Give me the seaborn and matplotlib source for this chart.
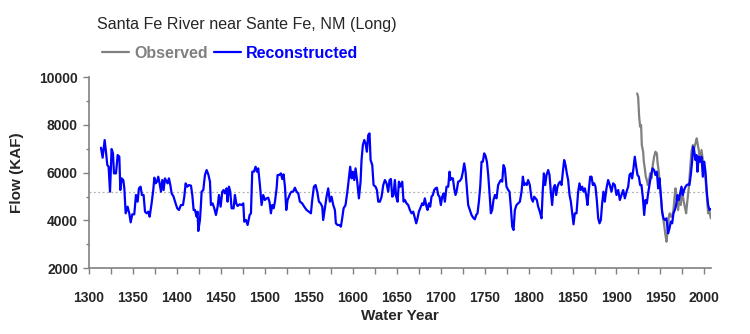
import matplotlib
matplotlib.use("Agg")
import matplotlib.pyplot as plt
import seaborn as sns
import pandas as pd
from matplotlib.ticker import MultipleLocator

title = "Santa Fe River near Sante Fe, NM (Long)"
x_label = "Water Year"
y_label = "Flow (KAF)"
mean_flow = 5180

rec_years = [1313.6, 1315.5, 1317.8, 1319.3, 1320.8, 1322.3, 1323.9, 1325.7, 1327.3, 1328.4,
             1330.7, 1332.6, 1334.5, 1335.6, 1337.1, 1339.0, 1340.2, 1341.7, 1343.9, 1345.8,
             1347.4, 1349.2, 1351.5, 1353.4, 1355.3, 1356.8, 1358.7, 1360.2, 1362.1, 1363.7,
             1365.5, 1367.4, 1369.0, 1371.2, 1373.1, 1374.3, 1375.8, 1377.3, 1378.8, 1380.3,
             1381.9, 1383.4, 1384.9, 1386.4, 1387.9, 1389.4, 1390.9, 1392.5, 1394.0, 1396.2,
             1398.5, 1400.4, 1402.3, 1404.6, 1406.9, 1408.4, 1409.9, 1411.8, 1413.7, 1416.0,
             1417.5, 1419.0, 1420.5, 1422.4, 1423.5, 1424.3,
             1426.2, 1427.3, 1428.1, 1430.0, 1431.9, 1433.8, 1435.7, 1437.6, 1438.7, 1440.6,
             1442.5, 1444.4, 1446.3, 1447.8, 1449.7, 1451.6, 1453.1, 1454.6, 1456.5, 1457.6,
             1459.2, 1460.7, 1462.2, 1464.5, 1466.0, 1467.5, 1469.0, 1471.3, 1473.6, 1475.5,
             1476.6, 1478.5, 1480.4, 1482.7, 1484.2, 1485.7, 1487.6, 1489.5, 1491.0, 1492.5,
             1494.4, 1496.3, 1498.2, 1500.1, 1502.0, 1503.9, 1505.4, 1506.9, 1508.4, 1510.0,
             1511.5, 1513.4, 1514.5, 1516.4, 1518.3, 1519.8, 1521.3, 1522.9, 1524.4, 1525.9,
             1527.4, 1528.9, 1530.4, 1532.3, 1534.2, 1536.1, 1538.0,
             1539.9, 1542.5, 1544.8, 1547.5, 1550.1, 1552.4, 1553.9, 1555.8, 1557.7, 1559.6,
             1561.5, 1563.4, 1565.3, 1566.4, 1568.3, 1570.2, 1572.1, 1574.0, 1575.9, 1577.8,
             1579.7, 1580.8, 1582.7, 1585.0, 1586.5, 1588.0, 1589.6, 1591.8, 1594.1, 1595.6,
             1597.1, 1598.7, 1600.2, 1601.7, 1603.2, 1605.1, 1607.0, 1608.9, 1610.0, 1611.5,
             1613.1, 1614.6, 1616.1, 1617.6, 1619.1, 1620.3, 1622.2, 1623.7, 1625.9, 1627.5,
             1629.0, 1630.9, 1632.8, 1634.7, 1636.6, 1638.5, 1640.3, 1641.9, 1643.4, 1644.9,
             1646.4, 1647.9, 1649.4, 1651.0, 1652.5, 1654.0,
             1656.3, 1657.8, 1659.3, 1661.2, 1663.1, 1665.0, 1666.9, 1668.8, 1670.7, 1672.2,
             1673.7, 1675.2, 1677.5, 1679.0, 1680.5, 1682.0, 1683.9, 1685.1, 1686.6, 1688.1,
             1689.6, 1691.1, 1692.7, 1694.2, 1695.7, 1697.2, 1698.7, 1700.2, 1701.8, 1703.3,
             1704.8, 1706.7, 1708.6, 1710.1, 1711.2, 1712.4, 1713.9, 1715.4, 1716.9, 1718.4,
             1719.9, 1721.8, 1723.7, 1725.3, 1726.8, 1728.3, 1729.8, 1731.3, 1733.2, 1735.1,
             1737.0, 1738.9, 1740.4, 1741.9, 1743.5, 1745.0, 1746.5, 1748.0, 1749.5, 1751.0,
             1752.6, 1754.1, 1755.6, 1757.1, 1758.6, 1760.1, 1761.7, 1763.5, 1765.4, 1767.3,
             1768.5, 1770.0, 1771.5, 1773.0, 1774.9, 1776.8, 1778.3, 1779.8, 1781.4, 1782.9,
             1784.4, 1786.3, 1788.2, 1790.1, 1792.0, 1793.5, 1795.0, 1796.5, 1798.0, 1799.5,
             1801.4, 1803.3, 1804.9, 1806.4, 1807.9, 1809.4, 1810.9, 1812.8, 1814.7, 1816.2,
             1817.4, 1818.9, 1820.4, 1822.3, 1823.8, 1825.3, 1826.8, 1828.4, 1829.9, 1831.4,
             1832.9, 1834.4, 1835.9, 1837.5, 1839.0, 1840.5, 1842.0, 1843.5, 1845.0, 1846.6,
             1848.1, 1849.6, 1851.1, 1852.6, 1854.5, 1856.4, 1857.9, 1859.4, 1861.0, 1862.5,
             1864.0, 1865.5, 1867.0, 1868.5, 1870.1, 1871.6, 1873.1, 1874.6, 1876.1, 1877.6,
             1879.2, 1880.7, 1882.2,
             1883.7, 1885.2, 1886.7, 1888.6, 1890.5, 1892.4, 1894.3, 1896.2, 1898.1, 1900.0,
             1901.9, 1903.8, 1905.7, 1907.6, 1909.5, 1911.4, 1913.3, 1914.8, 1916.3, 1917.8,
             1919.3, 1920.8, 1922.4, 1923.9, 1925.4, 1926.9, 1928.4, 1929.9, 1931.5, 1933.0,
             1934.5, 1936.0, 1937.5, 1939.0, 1940.9, 1942.8, 1944.3, 1945.9, 1947.4, 1948.9,
             1950.4, 1951.9, 1953.4, 1954.9, 1956.8, 1958.7, 1960.3, 1961.8, 1963.3, 1964.8,
             1966.3, 1967.8, 1969.4, 1970.9, 1972.4, 1973.9, 1975.4, 1976.9, 1978.5, 1980.0,
             1981.5, 1983.0, 1984.5, 1986.0, 1987.2, 1988.3, 1989.8, 1991.0, 1992.1, 1993.6,
             1995.1, 1996.7, 1998.2, 1999.7, 2001.2, 2002.7, 2004.2, 2005.8, 2007.3]

rec_flow = [7043, 6625, 7363, 6876, 6318, 6250, 5204, 6987, 6806, 5970,
            5970, 6736, 6667, 5274, 5761, 5692, 5343, 4299, 4577, 4299,
            3922, 4257, 4257, 5065, 4786, 5343, 5413, 5065, 5065, 4368,
            4299, 4368, 4159, 4716, 5274, 5789, 5552, 5622, 5831, 5552,
            5204, 5692, 5274, 5761, 5650, 5552, 5761, 5483, 5134, 4995,
            4716, 4508, 4438, 4647, 4647, 4995, 5552, 5413, 5483, 5455,
            5065, 4438, 4438, 4159, 4368, 3560,
            4020, 4647, 5204, 5274, 5901, 6110, 5928, 5622, 4647, 4716,
            4508, 4229, 4577, 5065, 4577, 5204, 5274, 5134, 5343, 4786,
            5413, 5204, 4508, 4508, 5065, 4716, 4605, 4675, 4647, 4716,
            3950, 4020, 3811, 4229, 4299, 6040, 6040, 6249, 6040, 6179,
            5483, 4647, 5065, 4856, 4925, 4953, 4758, 4299, 4647, 4508,
            4786, 5343, 5901, 5901, 5970, 5733, 5928, 5413, 4438, 4856,
            4995, 5134, 5204, 5204, 5371, 5204, 5134,
            4786, 4716, 4577, 4438, 4368, 4299, 4856, 5413, 5483, 5204,
            4786, 4716, 4577, 4020, 4508, 4995, 5343, 4786, 4995, 4647,
            4438, 3881, 3811, 3811, 3741, 4090, 4508, 4647, 5274, 5761,
            6249, 5761, 6040, 5692, 6179, 5622, 4925, 5622, 6527, 7154,
            7363, 7224, 6876, 7572, 7642, 6527, 6318, 5483, 5413, 5274,
            4786, 4786, 4995, 5483, 5692, 5552, 5204, 5692, 5733, 4995,
            5065, 5692, 4995, 4786, 5622, 5413,
            5622, 4786, 4856, 4716, 4647, 4438, 4299, 4368, 4090, 3881,
            4090, 4368, 4577, 4716, 4647, 4925, 4577, 4438, 4716, 4577,
            4995, 5065, 5274, 5343, 5371, 5065, 4995, 4647, 4995, 5134,
            4786, 5413, 5413, 6040, 5692, 5761, 5761, 5343, 5065, 5274,
            5622, 5650, 5761, 6040, 6388, 6040, 5343, 4647, 4438, 4229,
            4117, 4048, 4229, 4299, 4786, 5413, 6458, 6458, 6806, 6708,
            6458, 5901, 5134, 4299, 4438, 4856, 5065, 4925, 5483, 5622,
            5692, 5622, 6318, 6179, 5413, 5274, 5204, 4577, 3741, 3602,
            4438, 4647, 4716, 4786, 5204, 5831, 5483, 5552, 5483, 5692,
            5483, 4925, 4786, 4995, 4925, 4856, 4577, 4368, 4090, 5274,
            5970, 5483, 5901, 6110, 5901, 5204, 4647, 5343, 5483, 5065,
            5413, 5552, 5622, 5483, 6040, 6527, 6318, 5970, 5692, 5065,
            4786, 4299, 3839, 4299, 4299, 5204, 5552, 5274, 5413, 5204,
            5343, 5065, 4647, 5274, 5831, 5831, 5483, 5552, 5413, 4856,
            4090, 3881, 4020,
            4717, 5204, 4787, 5344, 5692, 5483, 5204, 5553, 5483, 5065,
            5274, 4856, 5065, 5274, 4926, 5204, 5413, 5901, 5971, 5762,
            6180, 6667, 6249, 5901, 5831, 5483, 5483, 4995, 4229, 4856,
            4717, 5135, 5483, 5831, 6180, 6110, 5901, 6040, 5344, 5762,
            5065, 4368, 4090, 4020, 4090, 3463, 3672, 3951, 3881, 4299,
            4438, 4647, 5065, 4856, 5135, 5413, 5065, 5274, 5413, 5483,
            5511, 5483, 5901, 6458, 7085, 6946, 6528, 6737, 6040, 6667,
            6458, 6667, 5831, 6458, 6040, 5204, 4647, 4438, 4480]

obs_years = [1923.5, 1924.6, 1925.8, 1926.9, 1928.0, 1928.8, 1930.3, 1931.1, 1932.2, 1933.3,
             1934.5, 1935.6, 1936.8, 1938.3, 1939.8, 1941.3, 1942.8, 1944.3, 1945.9, 1946.6,
             1948.1, 1949.3, 1950.4, 1951.9, 1953.1, 1954.2, 1955.7, 1956.9, 1958.0, 1959.5,
             1960.6, 1961.8, 1963.3, 1964.8, 1965.9, 1967.1, 1968.6, 1970.1, 1971.6, 1973.2,
             1974.7, 1976.2, 1977.7, 1979.2, 1980.7, 1982.2, 1983.8, 1985.3, 1986.8, 1988.3,
             1989.8, 1991.3, 1992.5, 1993.6, 1995.1, 1996.7, 1998.2, 1999.7, 2001.2, 2002.7,
             2004.2, 2005.8, 2007.3]
obs_flow = [9314, 9174, 8339, 7921, 7990, 7155, 6876, 6458, 6180, 5831,
            5692, 5483, 5622, 5971, 5762, 6319, 6667, 6876, 6806, 6458,
            6040, 5483, 5065, 4368, 4090, 3811, 3393, 3115, 3533, 4160,
            4299, 4160, 4160, 4438, 4926, 5344, 4856, 4438, 4995, 4647,
            5344, 4856, 4577, 4299, 4856, 5344, 6180, 6876, 7155, 7015,
            7224, 7433, 7155, 6946, 6458, 6946, 6528, 6319, 5762, 5065,
            4299, 4368, 4090]

sns.set_style("white")
plt.rcParams["font.family"] = ["Liberation Sans", "DejaVu Sans"]

fig = plt.figure(figsize=(7.5, 3.34), dpi=100)
ax = fig.add_axes([89 / 750, 1 - 268.3 / 334, (711 - 89) / 750, (268.3 - 77) / 334])

obs_df = pd.DataFrame({"Year": obs_years, "Flow": obs_flow})
rec_df = pd.DataFrame({"Year": rec_years, "Flow": rec_flow})

ax.axhline(mean_flow, color="#b0b0b0", lw=0.9, ls=(0, (1.5, 2)), zorder=1)
sns.lineplot(data=obs_df, x="Year", y="Flow", ax=ax, color="#808080", lw=1.6,
             sort=False, estimator=None, label="Observed", zorder=2)
sns.lineplot(data=rec_df, x="Year", y="Flow", ax=ax, color="#0000ff", lw=1.6,
             sort=False, estimator=None, label="Reconstructed", zorder=3)

ax.set_xlim(1300, 2007.5)
ax.set_ylim(2000, 10000)
ax.xaxis.set_major_locator(MultipleLocator(50))
ax.xaxis.set_minor_locator(MultipleLocator(25))
ax.yaxis.set_major_locator(MultipleLocator(2000))
ax.yaxis.set_minor_locator(MultipleLocator(1000))
for s in ["top", "right"]:
    ax.spines[s].set_visible(False)
for s in ["left", "bottom"]:
    ax.spines[s].set_color("#808080")
    ax.spines[s].set_linewidth(1.2)
ax.tick_params(axis="both", which="both", direction="out", color="#808080",
               length=4, width=1, bottom=True, left=True)
ax.tick_params(axis="y", which="minor", length=2)
ax.tick_params(axis="x", which="major", labelsize=10, pad=12)
ax.tick_params(axis="y", which="major", labelsize=10, pad=4)
for lab in ax.get_xticklabels() + ax.get_yticklabels():
    lab.set_fontweight("bold")

ax.set_xlabel(x_label, fontsize=11, fontweight="bold", labelpad=3)
ax.set_ylabel(y_label, fontsize=11, fontweight="bold", labelpad=11)

fig.text(97 / 750, 1 - 25 / 334, title, ha="left", va="center", fontsize=11.6)

ax.get_legend().remove()
leg = fig.legend(loc="center left", bbox_to_anchor=(102 / 750, 1 - 53 / 334), ncol=2,
                 frameon=False, handlelength=1.7, handletextpad=0.3,
                 columnspacing=0.4, borderaxespad=0, borderpad=0,
                 prop={"weight": "bold", "size": 11.5})
for txt, col in zip(leg.get_texts(), ["#808080", "#0000ff"]):
    txt.set_color(col)

fig.savefig("out.png", dpi=100)
